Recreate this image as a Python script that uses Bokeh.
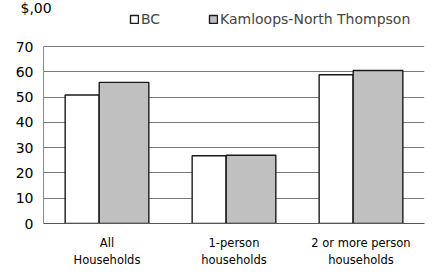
from bokeh.plotting import figure
from bokeh.models import (ColumnDataSource, FactorRange, Range1d, FixedTicker,
                          Legend, LegendItem)
from bokeh.transform import dodge
from bokeh.embed import file_html
from bokeh.resources import INLINE

categories = ["All\nHouseholds", "1-person\nhouseholds", "2 or more person\nhouseholds"]
bc = [50.8, 26.8, 58.8]
knt = [55.8, 27.0, 60.5]
yticks = [0, 10, 20, 30, 40, 50, 60, 70]
series_names = ["BC", "Kamloops-North Thompson"]
unit_label = "$,00"

FONT = "DejaVu Sans"

# layout (pixels)
TOP, BOTTOM, LEFT, RIGHT = 12, 42, 43, 2
W, H = 426, 265
FRAME_H = H - TOP - BOTTOM
PLOT_H = 177  # pixel height of the 0..70 value span

src = ColumnDataSource(dict(cat=categories, bc=bc, knt=knt))

p = figure(frame_width=W - LEFT - RIGHT, frame_height=FRAME_H,
           output_backend="svg", toolbar_location=None,
           x_range=FactorRange(*categories, range_padding=0),
           y_range=Range1d(0, yticks[-1] * FRAME_H / PLOT_H),
           min_border_left=LEFT, min_border_right=RIGHT, min_border_top=TOP,
           min_border_bottom=BOTTOM, title=unit_label)
p.title.align = "left"
p.title.offset = -23
p.title.vertical_align = "top"
p.title.text_font = FONT
p.title.text_font_size = "14px"
p.title.text_font_style = "normal"
p.title.text_color = "black"
try:
    p.title.standoff = -10
except Exception:
    p.title.standoff = 0

r1 = p.vbar(x=dodge("cat", -0.196, range=p.x_range), top="bc", width=0.267,
            source=src, fill_color="white", line_color="#1a1a1a", line_width=1.4)
r2 = p.vbar(x=dodge("cat", 0.134, range=p.x_range), top="knt", width=0.391,
            source=src, fill_color="#c0c0c0", line_color="#1a1a1a", line_width=1.4)

p.outline_line_color = None
p.xgrid.grid_line_color = None
p.ygrid.grid_line_color = "#7a7a7a"
p.ygrid.grid_line_width = 1
p.ygrid.ticker = FixedTicker(ticks=yticks)
p.yaxis.ticker = FixedTicker(ticks=yticks)
p.yaxis.bounds = (yticks[0], yticks[-1])

p.yaxis.axis_line_color = "#8a8a8a"
p.yaxis.major_tick_out = 0
p.yaxis.major_tick_in = 0
p.yaxis.minor_tick_out = 0
p.yaxis.minor_tick_in = 0
p.yaxis.major_tick_line_color = None
p.yaxis.minor_tick_line_color = None
p.yaxis.major_label_text_font = FONT
p.yaxis.major_label_text_font_size = "14px"
p.yaxis.major_label_text_color = "black"
p.yaxis.major_label_standoff = 10

p.xaxis.axis_line_color = "#555555"
p.xaxis.major_tick_out = 0
p.xaxis.major_tick_in = 0
p.xaxis.major_tick_line_color = None
p.xaxis.minor_tick_line_color = None
p.xaxis.major_label_text_font = FONT
p.xaxis.major_label_text_font_size = "11.5px"
p.xaxis.major_label_text_color = "black"
p.xaxis.major_label_text_line_height = 1.25
p.xaxis.major_label_standoff = 12

lg = Legend(items=[LegendItem(label=series_names[0], renderers=[r1]),
                   LegendItem(label=series_names[1], renderers=[r2])],
            location=(86, 196), orientation="horizontal", padding=0, margin=0,
            spacing=47, border_line_color=None, background_fill_alpha=0,
            glyph_width=10, glyph_height=10, label_standoff=2,
            label_text_font=FONT, label_text_font_size="14px", label_height=14)
p.add_layout(lg, "center")

open("out.html", "w").write(file_html(p, INLINE))
